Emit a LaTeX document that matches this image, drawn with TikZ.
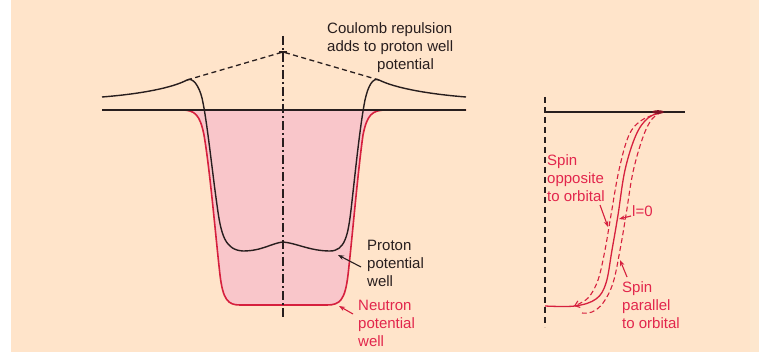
\documentclass[tikz,border=0pt]{standalone}
\usepackage{fontspec}
\setmainfont{Liberation Sans}
\usetikzlibrary{arrows.meta}
\definecolor{bg}{RGB}{255,228,202}
\definecolor{bgr}{RGB}{253,231,206}
\definecolor{wellfill}{RGB}{249,198,202}
\definecolor{redline}{RGB}{214,32,62}
\definecolor{redtext}{RGB}{226,38,76}
\definecolor{ink}{RGB}{40,30,30}
\tikzset{
  lbl/.style={anchor=north west, inner sep=0pt, align=left, font=\fontsize{15}{18}\selectfont},
  blacklbl/.style={lbl, text=ink},
  redlbl/.style={lbl, text=redtext},
  curveblack/.style={draw=ink, line width=1.4pt},
  curvered/.style={draw=redline, line width=1.3pt},
  axisline/.style={draw=ink, line width=1.1pt, dash pattern=on 9pt off 3pt on 2pt off 3pt},
  vdash/.style={draw=ink, line width=1.1pt, dash pattern=on 6pt off 4pt},
  coul/.style={draw=ink, line width=1.3pt, dash pattern=on 5pt off 3.5pt},
  reddash/.style={draw=redline, line width=1.1pt, dash pattern=on 5pt off 3pt},
  blackarrow/.style={draw=ink, line width=1.1pt, -{Stealth[length=6pt,width=4.5pt]}},
  redarrow/.style={draw=redline, line width=1.1pt, -{Stealth[length=6pt,width=4.5pt]}}
}
\begin{document}
\begin{tikzpicture}[x=1pt,y=-1pt]
\path[use as bounding box] (0,0) rectangle (759,352);
\fill[white] (0,0) rectangle (759,352);
\fill[bg] (11,0) rectangle (759,352);
\fill[bgr] (750,0) rectangle (759,352);

% ---------- left: neutron well fill ----------
\fill[wellfill] (182,110) .. controls (195,110) and (200,115) .. (204,135)
  .. controls (210,170) and (216,240) .. (220,275)
  .. controls (223,300) and (228,305) .. (240,305)
  -- (327,305) .. controls (340,305) and (345,300) .. (348,275)
  .. controls (352,240) and (358,170) .. (363,135)
  .. controls (367,115) and (372,110) .. (386,110) -- cycle;

% neutron well outline
\draw[curvered, line width=1.6pt] (102,110) -- (182,110) .. controls (195,110) and (200,115) .. (204,135)
  .. controls (210,170) and (216,240) .. (220,275)
  .. controls (223,300) and (228,305) .. (240,305)
  -- (327,305) .. controls (340,305) and (345,300) .. (348,275)
  .. controls (352,240) and (358,170) .. (363,135)
  .. controls (367,115) and (372,110) .. (386,110) -- (466,110);

% zero line
\draw[draw=ink, line width=1.3pt] (102,110) -- (466,110);

% axis
\draw[axisline] (283,36) -- (283,318);
\draw[draw=ink, line width=1.1pt] (279,52) -- (287,52);

% Coulomb dashed
\draw[coul] (187,80) -- (283,52) -- (379,80);

% proton well
\draw[curveblack] (102,97) .. controls (140,94) and (172,88) .. (187,80)
  .. controls (193,77) and (199,86) .. (202,98)
  .. controls (207,120) and (212,170) .. (217,205)
  .. controls (221,235) and (225,250) .. (243,251)
  .. controls (262,251) and (272,243) .. (283,242)
  .. controls (296,243) and (310,251) .. (330,251)
  .. controls (345,251) and (348,235) .. (351,210)
  .. controls (355,175) and (360,125) .. (365,100)
  .. controls (368,86) and (373,77) .. (379,80)
  .. controls (395,88) and (428,94) .. (466,97);

% labels left
\node[blacklbl] (coulomb) at (327,22.6) {Coulomb repulsion\\adds to proton well\\\hspace*{50pt}potential};
\node[blacklbl] (proton) at (367,239.8) {Proton\\potential\\well};
\node[redlbl] (neutron) at (358,299.8) {Neutron\\potential\\well};

\coordinate (pa) at (361,267);
\coordinate (pb) at (338,255);
\draw[blackarrow] (pa) -- (pb);
\coordinate (na) at (353,314);
\coordinate (nb) at (339,306);
\draw[redarrow] (na) -- (nb);

% ---------- right diagram ----------
\draw[vdash] (545,97) -- (545,327);
\draw[draw=ink, line width=1.2pt] (545,112) -- (685,112);

% l=0 solid
\draw[curvered] plot[smooth, tension=0.6] coordinates {(545,306) (575,306) (596,299) (606,283) (612,250) (618,215) (625,170) (636,135) (648,118) (662,112)};
% spin opposite (left dashed)
\draw[reddash, -{Straight Barb[length=4.5pt,width=7pt]}] plot[smooth, tension=0.6] coordinates {(660,113) (642,120) (629,135) (619,170) (611,215) (605,250) (598,280) (588,298) (574,306)};
% spin parallel (right dashed)
\draw[reddash] plot[smooth, tension=0.6] coordinates {(662,112) (652,119) (643,137) (633,172) (626,215) (620,250) (613,283) (603,303) (592,312) (582,313)};
\fill[redline!60!black] (658,112) ellipse (6pt and 1.8pt);

\node[redlbl] (opp) at (547,154.5) {Spin\\opposite\\to orbital};
\node[redlbl, anchor=base west] (lzero) at (632,217) {l=0};
\node[redlbl] (par) at (622,281.5) {Spin\\parallel\\to orbital};

\coordinate (oa) at (600,205);
\coordinate (ob) at (608,227);
\draw[redarrow] (oa) -- (ob);
\coordinate (la) at (631,216);
\coordinate (lb) at (619,219);
\draw[redarrow] (la) -- (lb);
\coordinate (qa) at (627,277);
\coordinate (qb) at (620,260);
\draw[redarrow] (qa) -- (qb);
\end{tikzpicture}
\end{document}
